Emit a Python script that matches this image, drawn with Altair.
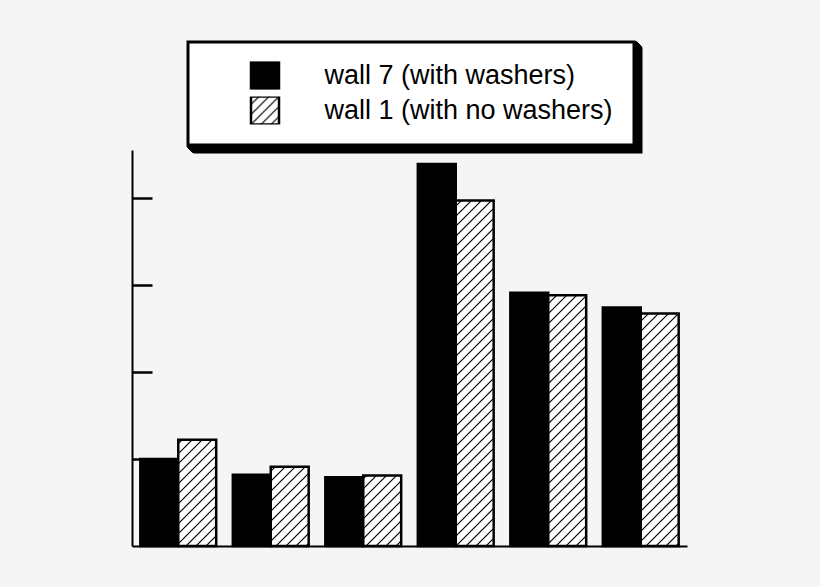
import altair as alt
import pandas as pd
import jinja2
from altair.utils import html as alt_html

# ---- data ----
groups = ["G1", "G2", "G3", "G4", "G5", "G6"]
series_names = ["wall 7 (with washers)", "wall 1 (with no washers)"]
wall7 = [1.00, 0.82, 0.79, 4.39, 2.91, 2.74]
wall1 = [1.22, 0.91, 0.81, 3.97, 2.88, 2.67]
y_ticks = [1, 2, 3, 4]

rows = []
for g, v in zip(groups, wall7):
    rows.append({"group": g, "series": series_names[0], "value": v})
for g, v in zip(groups, wall1):
    rows.append({"group": g, "series": series_names[1], "value": v})
df = pd.DataFrame(rows)

PLOT_W = 555
PLOT_H = 396

bars = alt.Chart(df).mark_bar(stroke="black", strokeWidth=2.5).encode(
    x=alt.X(
        "group:N",
        sort=groups,
        scale=alt.Scale(paddingInner=0.18, paddingOuter=0.09),
        axis=alt.Axis(
            labels=False, ticks=False, title=None, domainColor="black",
            domainWidth=2, grid=False,
        ),
    ),
    xOffset=alt.XOffset("series:N", sort=series_names,
                        scale=alt.Scale(domain=series_names)),
    y=alt.Y(
        "value:Q",
        scale=alt.Scale(domain=[0, 4.55], nice=False, zero=True),
        axis=alt.Axis(
            orient="right", offset=-PLOT_W, values=y_ticks, labels=False,
            title=None, tickSize=20, tickWidth=2.5, tickColor="black",
            domainColor="black", domainWidth=2, grid=False,
        ),
    ),
    fill=alt.Fill(
        "series:N",
        sort=series_names,
        scale=alt.Scale(domain=series_names, range=["black", "url(#hatch)"]),
        legend=alt.Legend(
            title=None, orient="none", legendX=55.5, legendY=-108.5,
            fillColor="white", strokeColor="black", padding=20,
            symbolType="square", symbolSize=784, symbolStrokeColor="black",
            symbolStrokeWidth=2.5, symbolOffset=42, labelOffset=44,
            labelFont="Liberation Sans", labelFontSize=27, labelColor="black",
            labelLimit=500, rowPadding=7, clipHeight=28,
        ),
    ),
).properties(
    width=PLOT_W,
    height=PLOT_H,
    autosize=alt.AutoSizeParams(type="none"),
    padding={"left": 124, "top": 142, "right": 125, "bottom": 33},
    background="#f5f5f5",
).configure_view(strokeWidth=0)

EXTRA = """
<style>
  body { background: #f5f5f5; }
  .role-legend > g > path.background {
    stroke-width: 3px;
    filter: drop-shadow(1px 1px 0 #000) drop-shadow(1px 1px 0 #000)
            drop-shadow(1px 1px 0 #000) drop-shadow(1px 1px 0 #000)
            drop-shadow(1px 1px 0 #000) drop-shadow(1px 1px 0 #000)
            drop-shadow(1px 1px 0 #000);
  }
</style>
<svg width="0" height="0" style="position:absolute" aria-hidden="true">
  <defs>
    <pattern id="hatch" patternUnits="userSpaceOnUse" width="10" height="10">
      <rect x="0" y="0" width="10" height="10" fill="#ffffff"></rect>
      <path d="M-1,11 L11,-1 M-6,6 L6,-6 M4,16 L16,4" stroke="#000000"
            stroke-width="1.2"></path>
    </pattern>
  </defs>
</svg>
"""

BASE_TEMPLATE = alt_html.TEMPLATES["standard"]


class PageTemplate(jinja2.Template):
    def render(self, *args, **kwargs):
        page = BASE_TEMPLATE.render(*args, **kwargs)
        if "<body>" in page:
            return page.replace("<body>", "<body>" + EXTRA, 1)
        return EXTRA + page


chart = bars
chart.save("out.html", embed_options={"renderer": "svg", "actions": False},
           template=PageTemplate(""))
